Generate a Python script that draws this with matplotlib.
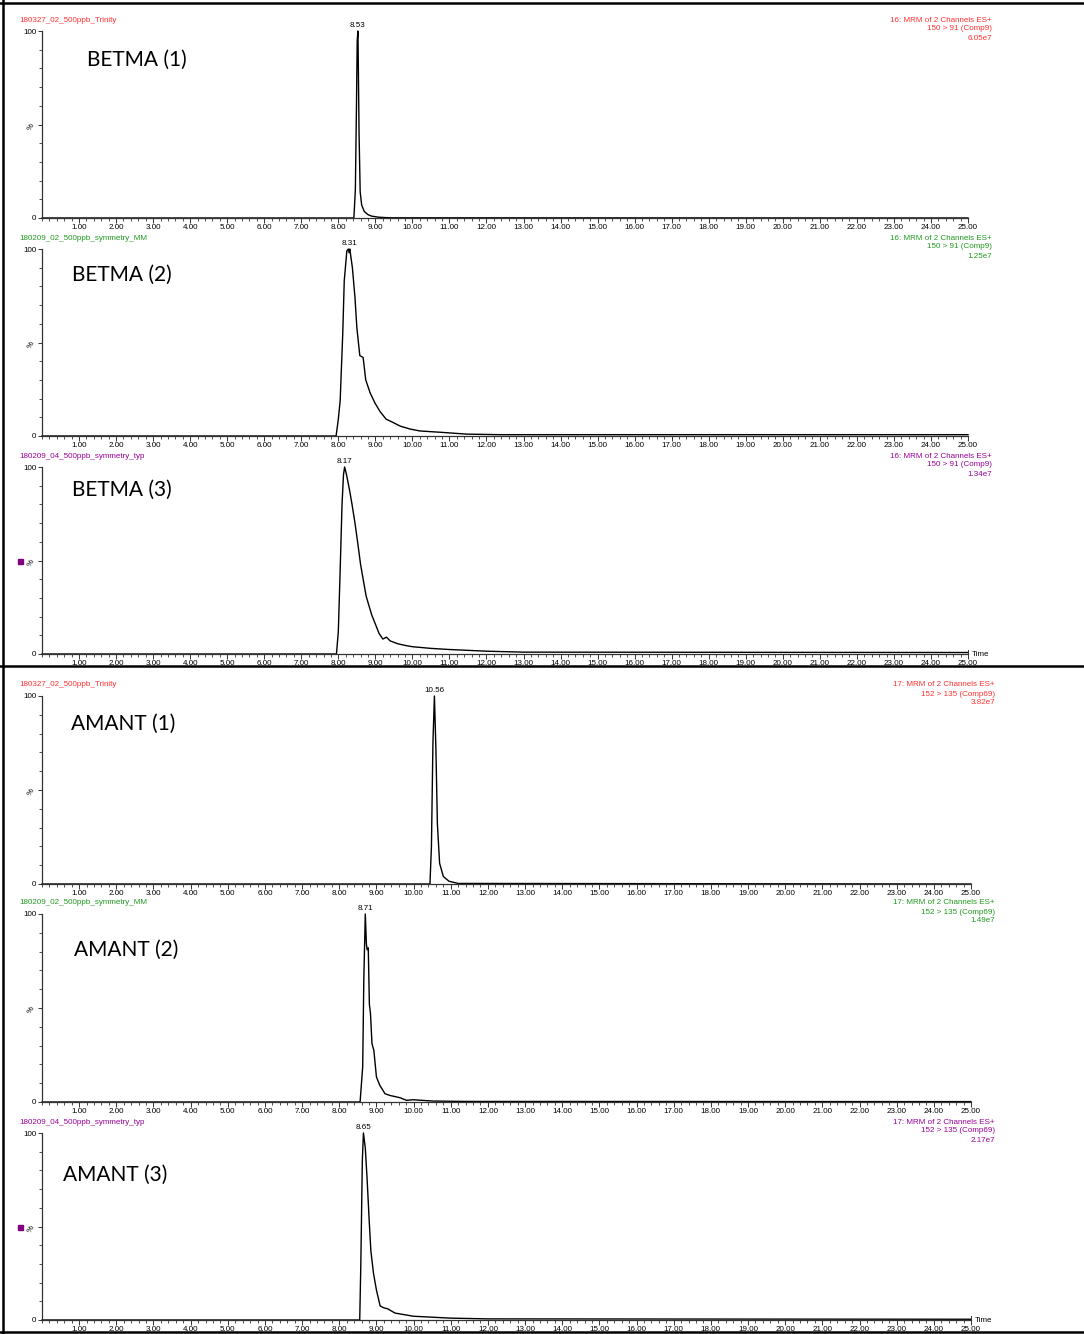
import matplotlib
matplotlib.use("Agg")
import matplotlib.pyplot as plt
from matplotlib.lines import Line2D
from matplotlib.patches import Rectangle
from matplotlib.ticker import MultipleLocator, FixedLocator

W, H = 1084, 1334

# ---- data (time in min, intensity in %) ----
t_betma1 = [0, 8.42, 8.46, 8.49, 8.51, 8.53, 8.56, 8.59, 8.63, 8.70, 8.80, 8.90, 9.10, 9.40, 25]
i_betma1 = [0, 0, 15, 60, 95, 100, 45, 14, 7, 3.5, 1.8, 1.0, 0.4, 0.1, 0]

t_betma2 = [0, 7.94, 8.00, 8.05, 8.12, 8.16, 8.23, 8.27, 8.29, 8.31, 8.38, 8.45, 8.50, 8.58, 8.67,
            8.74, 8.86, 8.99, 9.13, 9.29, 9.44, 9.67, 9.94, 10.2, 10.75, 11.47, 12.37, 25]
i_betma2 = [0, 0, 9, 19, 55, 83, 99, 100, 98, 100, 90, 74, 58, 43, 42,
            30, 23, 17.6, 13, 9, 7.6, 5.3, 3.7, 2.7, 2.0, 1.0, 0.7, 0.7]

t_betma3 = [0, 7.95, 8.00, 8.05, 8.10, 8.14, 8.17, 8.22, 8.30, 8.37, 8.45, 8.52, 8.60, 8.75,
            8.90, 9.00, 9.10, 9.20, 9.30, 9.40, 9.60, 9.80, 10.0, 10.5, 11.0, 12.0, 13.0, 25]
i_betma3 = [0, 0, 12, 45, 80, 96, 100, 96, 88, 80, 70, 60, 48, 31,
            21, 16, 11, 8.0, 9.0, 7.0, 5.5, 4.6, 3.9, 3.0, 2.4, 1.5, 1.0, 0.8]

t_amant1 = [0, 10.44, 10.48, 10.52, 10.56, 10.60, 10.64, 10.70, 10.80, 10.95, 11.20, 25]
i_amant1 = [0, 0, 20, 75, 100, 72, 32, 11, 4, 1.5, 0.3, 0]

t_amant2 = [0, 8.56, 8.63, 8.66, 8.70, 8.73, 8.75, 8.78, 8.81, 8.84, 8.88, 8.93, 9.00, 9.09,
            9.23, 9.36, 9.63, 9.81, 9.98, 10.52, 11.4, 25]
i_amant2 = [0, 0, 18.7, 65, 100, 84, 81, 82, 52, 47, 31, 27.5, 13.3, 8.9,
            4.4, 3.5, 2.3, 0.9, 1.2, 0.5, 0.3, 0.2]

t_amant3 = [0, 8.55, 8.58, 8.62, 8.65, 8.70, 8.75, 8.80, 8.85, 8.92, 9.00, 9.10, 9.20, 9.30,
            9.50, 10.0, 11.0, 12.0, 25]
i_amant3 = [0, 0, 30, 85, 100, 92, 75, 55, 37, 25, 16, 7.5, 6.5, 6.0,
            3.7, 2.0, 1.0, 0.6, 0.4]

names = ["BETMA (1)", "BETMA (2)", "BETMA (3)", "AMANT (1)", "AMANT (2)", "AMANT (3)"]
samples = ["180327_02_500ppb_Trinity", "180209_02_500ppb_symmetry_MM", "180209_04_500ppb_symmetry_typ"] * 2
headers = [["16: MRM of 2 Channels ES+", "150 > 91 (Comp9)", "6.05e7"],
           ["16: MRM of 2 Channels ES+", "150 > 91 (Comp9)", "1.25e7"],
           ["16: MRM of 2 Channels ES+", "150 > 91 (Comp9)", "1.34e7"],
           ["17: MRM of 2 Channels ES+", "152 > 135 (Comp69)", "3.82e7"],
           ["17: MRM of 2 Channels ES+", "152 > 135 (Comp69)", "1.49e7"],
           ["17: MRM of 2 Channels ES+", "152 > 135 (Comp69)", "2.17e7"]]
peak_times = [8.53, 8.31, 8.17, 10.56, 8.71, 8.65]
traces = [(t_betma1, i_betma1), (t_betma2, i_betma2), (t_betma3, i_betma3),
          (t_amant1, i_amant1), (t_amant2, i_amant2), (t_amant3, i_amant3)]

colors = ["#ff3030", "#1f9a1f", "#990099"] * 2

# pixel layout: (y of 0%, y of 100%, x of 25 min, right edge of header, label x, label y)
layout = [(218, 31, 968, 992, 87, 60),
          (436, 249, 968, 992, 72, 275),
          (654, 467, 968, 992, 72, 490),
          (884, 696, 971, 995, 71, 724),
          (1102, 914, 971, 995, 74, 950),
          (1320, 1133, 971, 995, 63, 1175)]

small = dict(family="Liberation Sans", fontsize=5.8)

fig = plt.figure(figsize=(W / 100, H / 100), dpi=100)


def fx(px):
    return px / W


def fy(py):
    return 1 - py / H


for k in range(6):
    y0, y100, x25, xr, lx, ly = layout[k]
    ax = fig.add_axes([fx(42), fy(y0), fx(x25 - 42), (y0 - y100) / H])
    t, inten = traces[k]
    ax.plot(t, inten, color="black", lw=1.0, clip_on=False)
    ax.set_xlim(0, 25)
    ax.set_ylim(0, 100)
    for s in ["top", "right"]:
        ax.spines[s].set_visible(False)
    for s in ["left", "bottom"]:
        ax.spines[s].set_color("#333333")
        ax.spines[s].set_linewidth(0.9)
    ax.xaxis.set_major_locator(FixedLocator(range(1, 26)))
    ax.xaxis.set_minor_locator(MultipleLocator(0.2))
    ax.set_xticklabels(["%.2f" % v for v in range(1, 26)], **small)
    ax.yaxis.set_major_locator(FixedLocator([0, 50, 100]))
    ax.yaxis.set_minor_locator(MultipleLocator(10))
    ax.set_yticklabels(["0", "%", "100"], **small)
    ax.get_yticklabels()[1].set_rotation(60)
    ax.tick_params(axis="x", which="major", length=3.5, width=0.7, pad=1, color="#333333")
    ax.tick_params(axis="x", which="minor", length=2, width=0.6, color="#333333")
    ax.tick_params(axis="y", which="major", length=3, width=0.7, pad=1, color="#333333")
    ax.tick_params(axis="y", which="minor", length=2, width=0.6, color="#333333")
    ax.patch.set_alpha(0)

    # peak label
    ax.annotate("%.2f" % peak_times[k], (peak_times[k], 100), xytext=(0, 1.5),
                textcoords="offset points", ha="center", va="bottom", **small)

    # sample name and channel header
    fig.text(fx(19), fy(y100 - 11), samples[k], color=colors[k], va="center", ha="left", **small)
    for j, line in enumerate(headers[k]):
        fig.text(fx(xr), fy(y100 - 11 + 9 * j), line, color=colors[k], va="center", ha="right", **small)

    # big compound label
    fig.text(fx(lx), fy(ly), names[k], family="Lato", fontsize=15, va="center", ha="left")

    if k in (2, 5):
        fig.text(fx(x25 + 4), fy(y0), "Time", va="center", ha="left", **small)
        ax.plot([25, 25], [0, 2], color="#333333", lw=0.7, clip_on=False)
        fig.add_artist(Rectangle((fx(18), fy((y0 + y100) / 2 + 3)), fx(5), 5 / H,
                                 color="#800080", transform=fig.transFigure))

# frame lines
for yy in (3, 666, 1332):
    fig.add_artist(Line2D([0, 1], [fy(yy), fy(yy)], color="black", lw=1.8))
fig.add_artist(Line2D([fx(3), fx(3)], [0, 1], color="black", lw=1.8))

fig.savefig("out.png", dpi=100)
